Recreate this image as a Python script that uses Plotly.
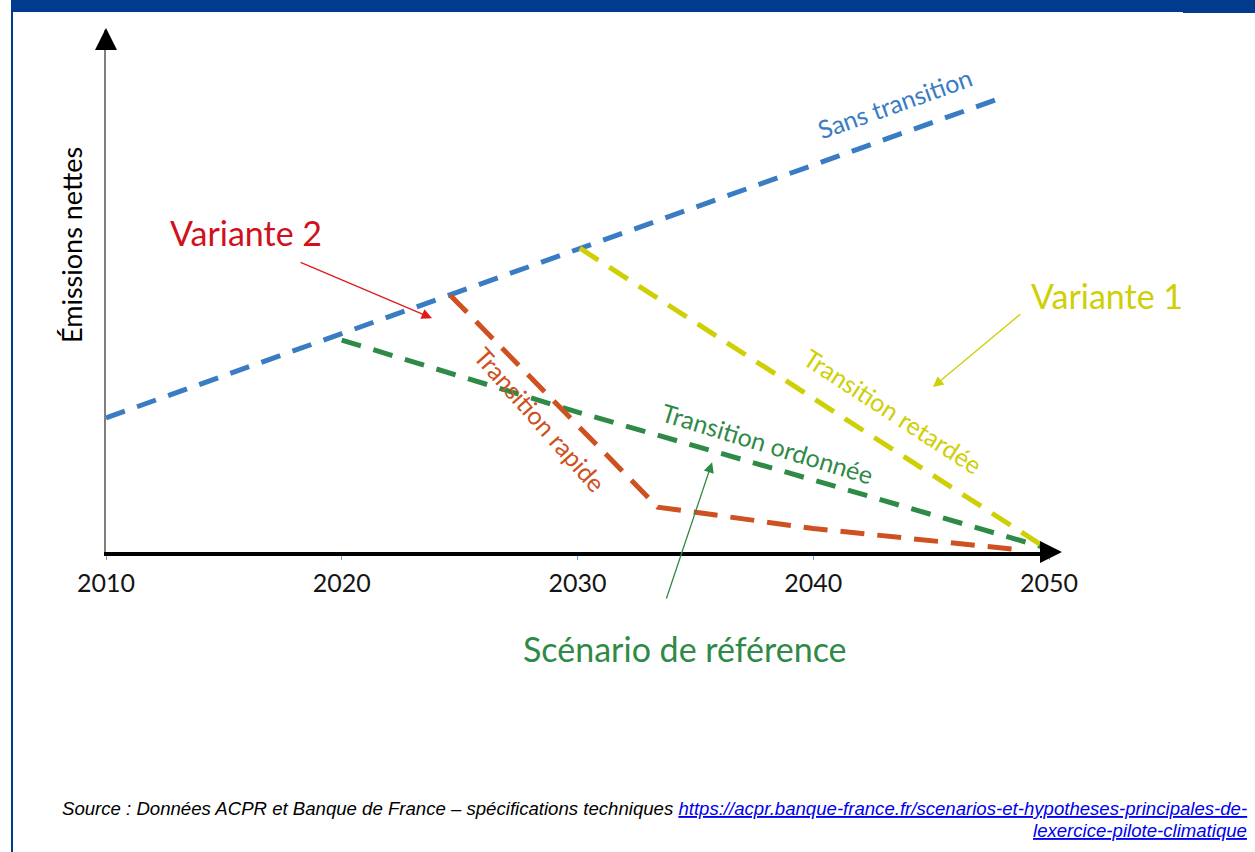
import plotly.graph_objects as go

# ---------------- data ----------------
years_ticks = [2010, 2020, 2030, 2040, 2050]
tick_labels = ["2010", "2020", "2030", "2040", "2050"]

sans_x = [2010, 2020, 2030.1, 2040, 2048.1]
sans_y = [25.7, 41.8, 58.2, 74.1, 87.2]

ordonnee_x = [2020, 2030, 2040, 2050]
ordonnee_y = [40.6, 26.8, 13.8, 0.6]

rapide_x = [2024.6, 2033.4, 2040, 2048.8]
rapide_y = [49.2, 8.6, 4.5, 0.4]

retardee_x = [2030.1, 2050]
retardee_y = [58.2, 0.4]

BLUE = "#3A7CC3"
RED_LINE = "#CF5020"
YELLOW = "#CFCF06"
GREEN = "#2F8A47"
RED_TXT = "#D0101C"
FRAME = "#003B8E"
FONT = "Lato"

W, H = 1255, 852
L, R, T, B = 106, 206, 30, 300
PW, PH = W - L - R, H - T - B


def px(xp):
    return (xp - L) / PW


def py(yp):
    return (H - B - yp) / PH


fig = go.Figure()

for xs, ys, col, dash in [
    (sans_x, sans_y, BLUE, "20px,13px"),
    (ordonnee_x, ordonnee_y, GREEN, "20px,13px"),
    (rapide_x, rapide_y, RED_LINE, "24px,13px"),
    (retardee_x, retardee_y, YELLOW, "22px,13px"),
]:
    fig.add_trace(go.Scatter(x=xs, y=ys, mode="lines", cliponaxis=False,
                             line=dict(color=col, width=5, dash=dash),
                             hoverinfo="skip", showlegend=False))

ann = []
# axis arrow heads
ann.append(dict(x=2050.55, y=0, ax=2049.8, ay=0, axref="x", ayref="y", xref="x", yref="y",
                showarrow=True, arrowhead=2, arrowsize=1.1, arrowwidth=4, arrowcolor="black", text=""))
ann.append(dict(x=2010, y=100.4, ax=2010, ay=98, axref="x", ayref="y", xref="x", yref="y",
                showarrow=True, arrowhead=2, arrowsize=2.2, arrowwidth=2, arrowcolor="black", text=""))

# labels on lines (positions in paper fractions of the plot area)
labels = [
    (895, 103, "Sans transition", -19.6, BLUE, 25),
    (893, 411, "Transition retardée", 33, YELLOW, 25),
    (540, 419, "Transition rapide", 48.5, RED_LINE, 25),
    (767, 443, "Transition ordonnée", 17, GREEN, 25),
    (246, 233, "Variante 2", 0, RED_TXT, 34),
    (1107, 295, "Variante 1", 0, YELLOW, 34),
    (685, 648, "Scénario de référence", 0, GREEN, 34),
    (71, 245, "Émissions nettes", -90, "black", 27),
]
for (xp, yp, t, ang, col, sz) in labels:
    ann.append(dict(xref="paper", yref="paper", x=px(xp), y=py(yp), text=t, textangle=ang,
                    showarrow=False, xanchor="center", yanchor="middle",
                    font=dict(family=FONT, color=col, size=sz)))

# pointer arrows
for (hx, hy, tx, ty, col) in [
    (2023.83, 44.8, 2018.19, 55.6, "#E01A1A"),
    (2045.08, 31.6, 2048.85, 45.8, YELLOW),
    (2035.71, 17.2, 2033.75, -9.2, GREEN),
]:
    ann.append(dict(x=hx, y=hy, ax=tx, ay=ty, xref="x", yref="y", axref="x", ayref="y",
                    showarrow=True, arrowhead=2, arrowsize=1.6, arrowwidth=1.3,
                    arrowcolor=col, text=""))

# source text
LINK = "https://acpr.banque-france.fr/scenarios-et-hypotheses-principales-de-lexercice-pilote-climatique"
ann.append(dict(xref="paper", yref="paper", x=px(1249), y=py(808), xanchor="right", yanchor="middle",
                showarrow=False, font=dict(family="Liberation Sans", size=18.6, color="black"),
                text="<i>Source : Données ACPR et Banque de France – spécifications techniques "
                     "<a href='" + LINK + "'>"
                     "<span style='color:#0000EE'><u>https://acpr.banque-france.fr/scenarios-et-hypotheses-principales-de-</u></span></a></i>"))
ann.append(dict(xref="paper", yref="paper", x=px(1249), y=py(830), xanchor="right", yanchor="middle",
                showarrow=False, font=dict(family="Liberation Sans", size=18.6, color="#0000EE"),
                text="<i><a href='" + LINK + "'>"
                     "<span style='color:#0000EE'><u>lexercice-pilote-climatique</u></span></a></i>"))

shapes = [
    # header bar
    dict(type="rect", xref="paper", yref="paper", x0=px(11), x1=px(1255), y0=py(12), y1=py(0),
         fillcolor=FRAME, line=dict(width=0), layer="below"),
    dict(type="rect", xref="paper", yref="paper", x0=px(1183), x1=px(1255), y0=py(13), y1=py(0),
         fillcolor=FRAME, line=dict(width=0), layer="below"),
    # left frame border
    dict(type="rect", xref="paper", yref="paper", x0=px(11), x1=px(13), y0=py(852), y1=py(0),
         fillcolor=FRAME, line=dict(width=0), layer="below"),
]

fig.update_layout(
    width=W, height=H,
    margin=dict(l=L, r=R, t=T, b=B, pad=0),
    paper_bgcolor="white", plot_bgcolor="white",
    annotations=ann, shapes=shapes,
    font=dict(family=FONT),
    xaxis=dict(range=[2010, 2050], tickvals=years_ticks, ticktext=tick_labels,
               showgrid=False, zeroline=False, showline=True, linecolor="black", linewidth=4,
               layer="below traces", ticks="outside", ticklen=4, tickwidth=1, tickcolor="#6A9FD8",
               ticklabelstandoff=2, tickfont=dict(family=FONT, size=25, color="#151515"),
               fixedrange=True),
    yaxis=dict(range=[0, 100], showgrid=False, zeroline=False, showticklabels=False,
               showline=True, linecolor="#7F7F7F", linewidth=2, layer="below traces", ticks="",
               fixedrange=True),
)

fig.write_html("out.html", config={"displayModeBar": False},
               post_script="document.body.style.margin='0';")
